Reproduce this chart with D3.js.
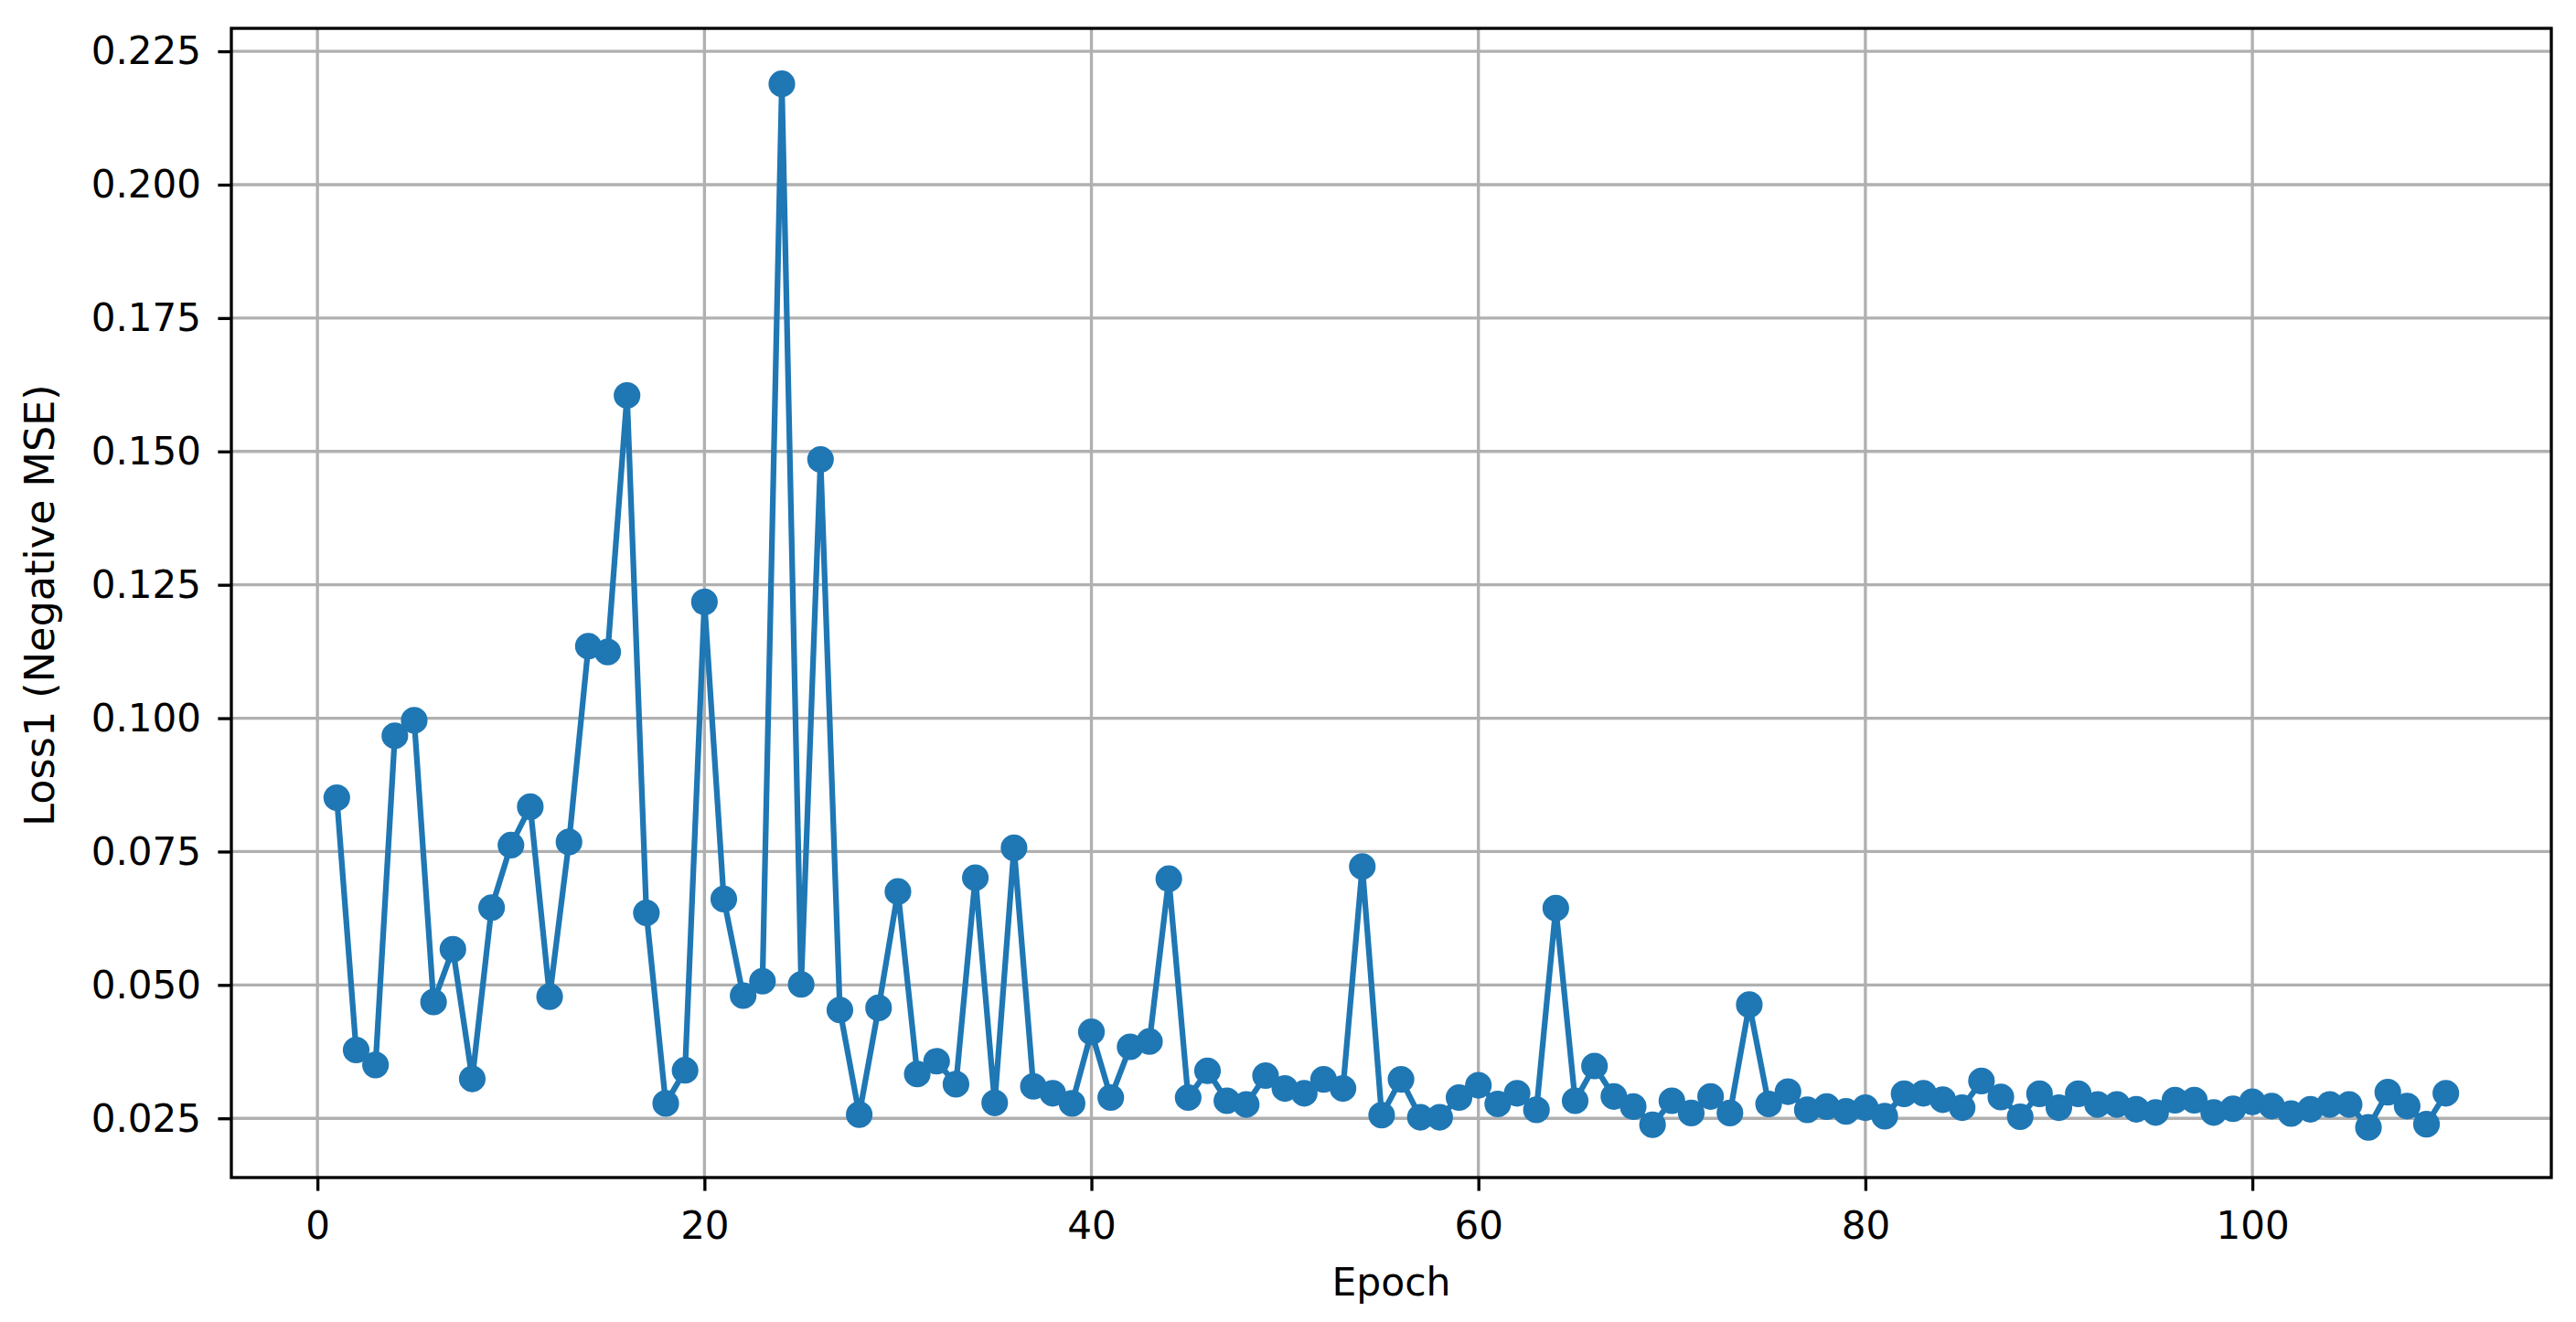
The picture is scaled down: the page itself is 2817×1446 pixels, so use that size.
<!DOCTYPE html>
<html>
<head>
<meta charset="utf-8">
<script src="https://cdn.jsdelivr.net/npm/d3@7/dist/d3.min.js"></script>
<style>
body{margin:0;background:#ffffff}
#lossGraph text{font-family:"DejaVu Sans",sans-serif;fill:#000000}
</style>
</head>
<body>
<svg id="lossGraph"></svg>
<script>
// epochs on the x axis
var epochs = [1,2,3,4,5,6,7,8,9,10,11,12,13,14,15,16,17,18,19,20,
    21,22,23,24,25,26,27,28,29,30,31,32,33,34,35,36,37,38,39,40,
    41,42,43,44,45,46,47,48,49,50,51,52,53,54,55,56,57,58,59,60,
    61,62,63,64,65,66,67,68,69,70,71,72,73,74,75,76,77,78,79,80,
    81,82,83,84,85,86,87,88,89,90,91,92,93,94,95,96,97,98,99,100,
    101,102,103,104,105,106,107,108,109,110]

// loss1 (negative MSE)
var loss1 = [0.0851,0.0378,0.0350,0.0967,0.0996,0.0468,0.0567,0.0324,0.0645,0.0762,
    0.0834,0.0478,0.0768,0.1135,0.1124,0.1605,0.0635,0.0278,0.0340,0.1218,
    0.0661,0.0480,0.0507,0.2189,0.0501,0.1485,0.0453,0.0257,0.0457,0.0675,
    0.0333,0.0357,0.0314,0.0701,0.0279,0.0757,0.0310,0.0297,0.0278,0.0412,
    0.0289,0.0384,0.0394,0.0699,0.0289,0.0339,0.0283,0.0276,0.0330,0.0306,
    0.0297,0.0323,0.0306,0.0722,0.0256,0.0323,0.0252,0.0252,0.0289,0.0312,
    0.0277,0.0297,0.0266,0.0644,0.0283,0.0348,0.0291,0.0272,0.0238,0.0283,
    0.0260,0.0291,0.0260,0.0463,0.0277,0.0300,0.0266,0.0272,0.0263,0.0270,
    0.0254,0.0296,0.0297,0.0285,0.0270,0.0320,0.0290,0.0253,0.0296,0.0270,
    0.0296,0.0276,0.0276,0.0267,0.0261,0.0284,0.0284,0.0261,0.0268,0.0281,
    0.0273,0.0259,0.0267,0.0276,0.0276,0.0233,0.0299,0.0273,0.0239,0.0297]

var xTicks = [0,20,40,60,80,100]
var yTicks = [0.025,0.050,0.075,0.100,0.125,0.150,0.175,0.200,0.225]
var xDomain = [-4.45,115.45]
var yDomain = [0.0139,0.2293]

var lineColor = "#1f77b4"
var fontSize = 42

var initGraph = function(lossData)
{
    var screen = {width:2817,height:1446}
    var margins = {left:253,right:27,top:31,bottom:158}
    var graph = {
        width:screen.width-margins.left-margins.right,
        height:screen.height-margins.top-margins.bottom
    }

    d3.select("#lossGraph")
        .attr("width",screen.width)
        .attr("height",screen.height)

    var xScale = d3.scaleLinear()
        .domain(xDomain)
        .range([0,graph.width])

    var yScale = d3.scaleLinear()
        .domain(yDomain)
        .range([graph.height,0])

    var target = d3.select("#lossGraph")
        .append("g")
        .attr("id","graph")
        .attr("transform","translate("+margins.left+","+margins.top+")")

    drawGrid(target,graph,xScale,yScale)
    drawLine(lossData,target,xScale,yScale)
    drawAxes(target,graph,xScale,yScale)
    drawLabels(graph,margins)
}

var drawGrid = function(target,graphDim,xScale,yScale)
{
    var grid = target.append("g").attr("class","grid")

    grid.selectAll("line.vgrid")
        .data(xTicks)
        .enter()
        .append("line")
        .attr("class","vgrid")
        .attr("x1",function(d){return xScale(d)})
        .attr("x2",function(d){return xScale(d)})
        .attr("y1",0)
        .attr("y2",graphDim.height)

    grid.selectAll("line.hgrid")
        .data(yTicks)
        .enter()
        .append("line")
        .attr("class","hgrid")
        .attr("x1",0)
        .attr("x2",graphDim.width)
        .attr("y1",function(d){return yScale(d)})
        .attr("y2",function(d){return yScale(d)})

    grid.selectAll("line")
        .attr("stroke","#b0b0b0")
        .attr("stroke-width",3.33)
}

var drawLine = function(lossData,target,xScale,yScale)
{
    var line = d3.line()
        .x(function(d){return xScale(d.epoch)})
        .y(function(d){return yScale(d.loss)})

    target.append("path")
        .datum(lossData)
        .attr("d",line)
        .attr("fill","none")
        .attr("stroke",lineColor)
        .attr("stroke-width",6.25)
        .attr("stroke-linejoin","round")

    target.selectAll("circle")
        .data(lossData)
        .enter()
        .append("circle")
        .attr("cx",function(d){return xScale(d.epoch)})
        .attr("cy",function(d){return yScale(d.loss)})
        .attr("r",12.5)
        .attr("fill",lineColor)
        .attr("stroke",lineColor)
        .attr("stroke-width",4.17)
}

var drawAxes = function(target,graphDim,xScale,yScale)
{
    var xAxis = d3.axisBottom(xScale)
        .tickValues(xTicks)
        .tickSize(14.6)
        .tickPadding(14.6)
        .tickFormat(d3.format("d"))

    var yAxis = d3.axisLeft(yScale)
        .tickValues(yTicks)
        .tickSize(14.6)
        .tickPadding(18.5)
        .tickFormat(d3.format(".3f"))

    var gx = target.append("g")
        .attr("transform","translate(0,"+graphDim.height+")")
        .call(xAxis)
    gx.selectAll("text").attr("dy","0.9em")

    var gy = target.append("g")
        .call(yAxis)
    gy.selectAll("text").attr("dy","0.33em")

    target.selectAll(".domain").remove()
    target.selectAll(".tick line")
        .attr("stroke","#000")
        .attr("stroke-width",3.33)
    target.selectAll(".tick text")
        .style("font-size",fontSize+"px")

    // frame round the plot
    target.append("rect")
        .attr("x",0)
        .attr("y",0)
        .attr("width",graphDim.width)
        .attr("height",graphDim.height)
        .attr("fill","none")
        .attr("stroke","#000")
        .attr("stroke-width",3.33)
}

var drawLabels = function(graphDim,margins)
{
    var labels = d3.select("#lossGraph")
        .append("g")
        .classed("labels",true)

    labels.append("text")
        .text("Epoch")
        .attr("text-anchor","middle")
        .attr("x",margins.left+graphDim.width/2)
        .attr("y",1417)
        .style("font-size","42.5px")

    labels.append("g")
        .attr("transform","translate(59,662)")
        .append("text")
        .text("Loss1 (Negative MSE)")
        .attr("text-anchor","middle")
        .attr("transform","rotate(-90)")
        .style("font-size","44.5px")
}

var lossData = epochs.map(function(e,i){
    return {epoch:e,loss:loss1[i]}
})
initGraph(lossData)
</script>
</body>
</html>
